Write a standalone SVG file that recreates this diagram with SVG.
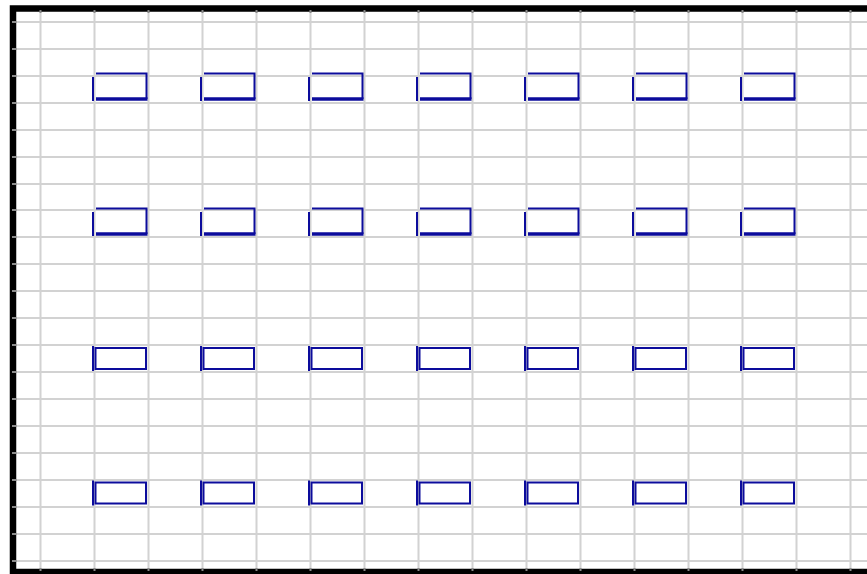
<svg xmlns="http://www.w3.org/2000/svg" xmlns:xlink="http://www.w3.org/1999/xlink" width="867" height="574" viewBox="0 0 867 574">
<style>
.grid line{stroke:#d2d2d2;stroke-width:2}
.tick line{stroke:#8a8a8a;stroke-width:2}
.b{fill:none;stroke:#0c0c9c;stroke-width:2}
.bt{fill:none;stroke:#0c0c9c;stroke-width:3.5}
</style>
<defs>
<g id="slotA">
<path class="b" d="M96,73.5 H146.5 V99"/>
<line class="bt" x1="96" y1="99" x2="147.5" y2="99"/>
<line class="b" x1="93" y1="77" x2="93" y2="101"/>
</g>
<g id="slotB">
<rect class="b" x="95.5" y="0" width="50.5" height="21"/>
<line class="b" x1="93" y1="-2" x2="93" y2="23"/>
</g>
</defs>
<rect x="0" y="0" width="867" height="574" fill="#ffffff"/>
<g class="grid">
<line x1="40.5" y1="10" x2="40.5" y2="570"/>
<line x1="94.5" y1="10" x2="94.5" y2="570"/>
<line x1="148.5" y1="10" x2="148.5" y2="570"/>
<line x1="202.5" y1="10" x2="202.5" y2="570"/>
<line x1="256.5" y1="10" x2="256.5" y2="570"/>
<line x1="310.5" y1="10" x2="310.5" y2="570"/>
<line x1="364.5" y1="10" x2="364.5" y2="570"/>
<line x1="418.5" y1="10" x2="418.5" y2="570"/>
<line x1="472.5" y1="10" x2="472.5" y2="570"/>
<line x1="526.5" y1="10" x2="526.5" y2="570"/>
<line x1="580.5" y1="10" x2="580.5" y2="570"/>
<line x1="634.5" y1="10" x2="634.5" y2="570"/>
<line x1="688.5" y1="10" x2="688.5" y2="570"/>
<line x1="742.5" y1="10" x2="742.5" y2="570"/>
<line x1="796.5" y1="10" x2="796.5" y2="570"/>
<line x1="850.5" y1="10" x2="850.5" y2="570"/>
<line x1="14" y1="22" x2="867" y2="22"/>
<line x1="14" y1="49" x2="867" y2="49"/>
<line x1="14" y1="76" x2="867" y2="76"/>
<line x1="14" y1="103" x2="867" y2="103"/>
<line x1="14" y1="130" x2="867" y2="130"/>
<line x1="14" y1="157" x2="867" y2="157"/>
<line x1="14" y1="184" x2="867" y2="184"/>
<line x1="14" y1="210" x2="867" y2="210"/>
<line x1="14" y1="237" x2="867" y2="237"/>
<line x1="14" y1="264" x2="867" y2="264"/>
<line x1="14" y1="291" x2="867" y2="291"/>
<line x1="14" y1="318" x2="867" y2="318"/>
<line x1="14" y1="345" x2="867" y2="345"/>
<line x1="14" y1="372" x2="867" y2="372"/>
<line x1="14" y1="399" x2="867" y2="399"/>
<line x1="14" y1="426" x2="867" y2="426"/>
<line x1="14" y1="453" x2="867" y2="453"/>
<line x1="14" y1="480" x2="867" y2="480"/>
<line x1="14" y1="507" x2="867" y2="507"/>
<line x1="14" y1="534" x2="867" y2="534"/>
<line x1="14" y1="561" x2="867" y2="561"/>
</g>
<rect id="frame" x="13" y="8.5" width="860" height="563.5" fill="none" stroke="#000000" stroke-width="6.5"/>
<g class="tick">
<line x1="40.5" y1="10" x2="40.5" y2="13"/><line x1="94.5" y1="10" x2="94.5" y2="13"/><line x1="148.5" y1="10" x2="148.5" y2="13"/><line x1="202.5" y1="10" x2="202.5" y2="13"/><line x1="256.5" y1="10" x2="256.5" y2="13"/><line x1="310.5" y1="10" x2="310.5" y2="13"/><line x1="364.5" y1="10" x2="364.5" y2="13"/><line x1="418.5" y1="10" x2="418.5" y2="13"/><line x1="472.5" y1="10" x2="472.5" y2="13"/><line x1="526.5" y1="10" x2="526.5" y2="13"/><line x1="580.5" y1="10" x2="580.5" y2="13"/><line x1="634.5" y1="10" x2="634.5" y2="13"/><line x1="688.5" y1="10" x2="688.5" y2="13"/><line x1="742.5" y1="10" x2="742.5" y2="13"/><line x1="796.5" y1="10" x2="796.5" y2="13"/><line x1="850.5" y1="10" x2="850.5" y2="13"/>
<line x1="40.5" y1="568" x2="40.5" y2="571"/><line x1="94.5" y1="568" x2="94.5" y2="571"/><line x1="148.5" y1="568" x2="148.5" y2="571"/><line x1="202.5" y1="568" x2="202.5" y2="571"/><line x1="256.5" y1="568" x2="256.5" y2="571"/><line x1="310.5" y1="568" x2="310.5" y2="571"/><line x1="364.5" y1="568" x2="364.5" y2="571"/><line x1="418.5" y1="568" x2="418.5" y2="571"/><line x1="472.5" y1="568" x2="472.5" y2="571"/><line x1="526.5" y1="568" x2="526.5" y2="571"/><line x1="580.5" y1="568" x2="580.5" y2="571"/><line x1="634.5" y1="568" x2="634.5" y2="571"/><line x1="688.5" y1="568" x2="688.5" y2="571"/><line x1="742.5" y1="568" x2="742.5" y2="571"/><line x1="796.5" y1="568" x2="796.5" y2="571"/><line x1="850.5" y1="568" x2="850.5" y2="571"/>
<line x1="12" y1="22" x2="16" y2="22"/><line x1="12" y1="49" x2="16" y2="49"/><line x1="12" y1="76" x2="16" y2="76"/><line x1="12" y1="103" x2="16" y2="103"/><line x1="12" y1="130" x2="16" y2="130"/><line x1="12" y1="157" x2="16" y2="157"/><line x1="12" y1="184" x2="16" y2="184"/><line x1="12" y1="210" x2="16" y2="210"/><line x1="12" y1="237" x2="16" y2="237"/><line x1="12" y1="264" x2="16" y2="264"/><line x1="12" y1="291" x2="16" y2="291"/><line x1="12" y1="318" x2="16" y2="318"/><line x1="12" y1="345" x2="16" y2="345"/><line x1="12" y1="372" x2="16" y2="372"/><line x1="12" y1="399" x2="16" y2="399"/><line x1="12" y1="426" x2="16" y2="426"/><line x1="12" y1="453" x2="16" y2="453"/><line x1="12" y1="480" x2="16" y2="480"/><line x1="12" y1="507" x2="16" y2="507"/><line x1="12" y1="534" x2="16" y2="534"/><line x1="12" y1="561" x2="16" y2="561"/>
</g>
<g id="row1">
<g id="r1c1"><use xlink:href="#slotA" x="0" y="0"/></g>
<g id="r1c2"><use xlink:href="#slotA" x="108" y="0"/></g>
<g id="r1c3"><use xlink:href="#slotA" x="216" y="0"/></g>
<g id="r1c4"><use xlink:href="#slotA" x="324" y="0"/></g>
<g id="r1c5"><use xlink:href="#slotA" x="432" y="0"/></g>
<g id="r1c6"><use xlink:href="#slotA" x="540" y="0"/></g>
<g id="r1c7"><use xlink:href="#slotA" x="648" y="0"/></g>
</g>
<g id="row2">
<g id="r2c1"><use xlink:href="#slotA" x="0" y="135"/></g>
<g id="r2c2"><use xlink:href="#slotA" x="108" y="135"/></g>
<g id="r2c3"><use xlink:href="#slotA" x="216" y="135"/></g>
<g id="r2c4"><use xlink:href="#slotA" x="324" y="135"/></g>
<g id="r2c5"><use xlink:href="#slotA" x="432" y="135"/></g>
<g id="r2c6"><use xlink:href="#slotA" x="540" y="135"/></g>
<g id="r2c7"><use xlink:href="#slotA" x="648" y="135"/></g>
</g>
<g id="row3">
<g id="r3c1"><use xlink:href="#slotB" x="0" y="348"/></g>
<g id="r3c2"><use xlink:href="#slotB" x="108" y="348"/></g>
<g id="r3c3"><use xlink:href="#slotB" x="216" y="348"/></g>
<g id="r3c4"><use xlink:href="#slotB" x="324" y="348"/></g>
<g id="r3c5"><use xlink:href="#slotB" x="432" y="348"/></g>
<g id="r3c6"><use xlink:href="#slotB" x="540" y="348"/></g>
<g id="r3c7"><use xlink:href="#slotB" x="648" y="348"/></g>
</g>
<g id="row4">
<g id="r4c1"><use xlink:href="#slotB" x="0" y="482.5"/></g>
<g id="r4c2"><use xlink:href="#slotB" x="108" y="482.5"/></g>
<g id="r4c3"><use xlink:href="#slotB" x="216" y="482.5"/></g>
<g id="r4c4"><use xlink:href="#slotB" x="324" y="482.5"/></g>
<g id="r4c5"><use xlink:href="#slotB" x="432" y="482.5"/></g>
<g id="r4c6"><use xlink:href="#slotB" x="540" y="482.5"/></g>
<g id="r4c7"><use xlink:href="#slotB" x="648" y="482.5"/></g>
</g>
</svg>
